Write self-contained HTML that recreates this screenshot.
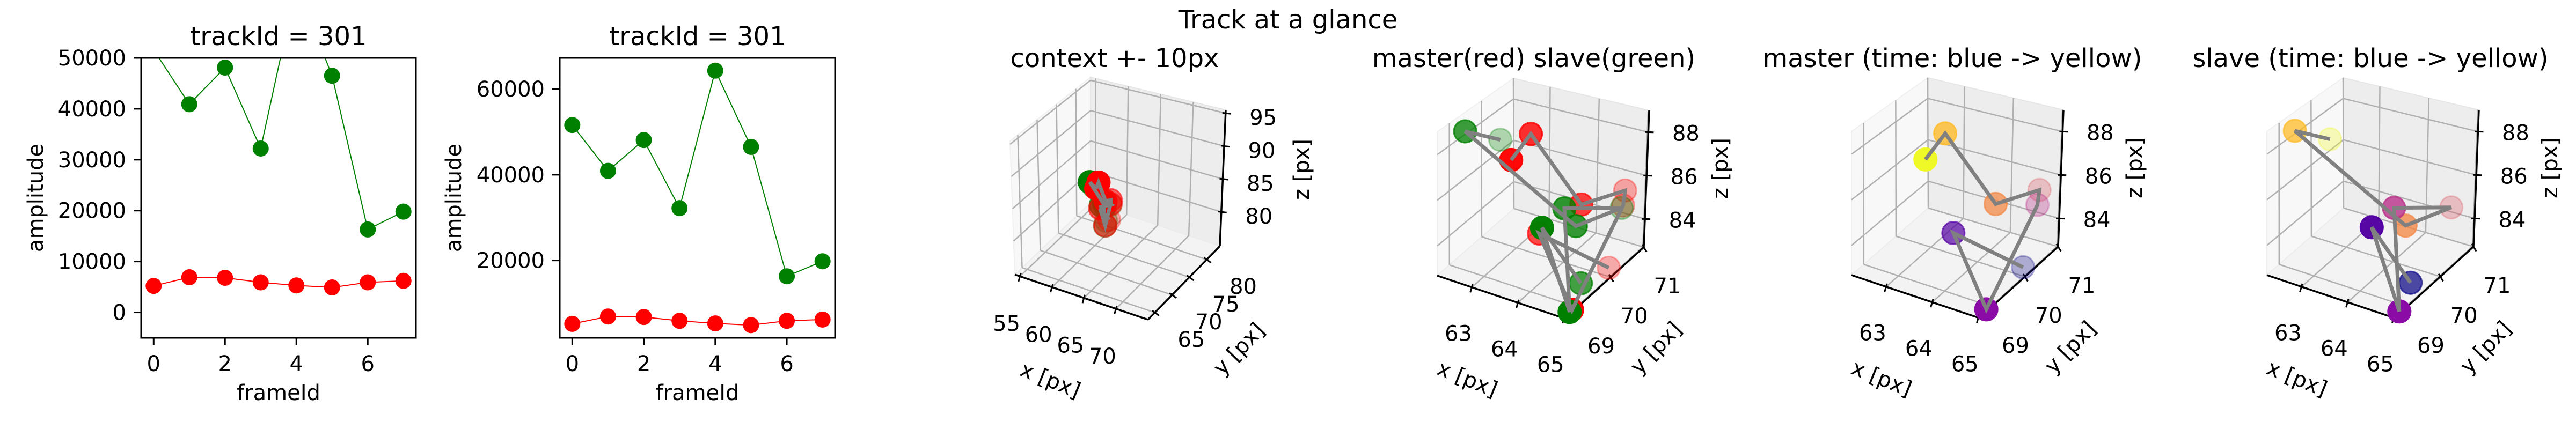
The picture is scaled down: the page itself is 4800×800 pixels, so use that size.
<!DOCTYPE html>
<html><head><meta charset="utf-8"><style>
html,body{margin:0;padding:0;background:#fff;}
svg{display:block;font-family:"DejaVu Sans","Liberation Sans",sans-serif;}
</style></head><body>
<svg id="fig" width="4800" height="800" viewBox="0 0 4800 800" xmlns="http://www.w3.org/2000/svg">
<rect width="4800" height="800" fill="#fff"/>
<text x="2400" y="53" font-size="48" text-anchor="middle">Track at a glance</text>
</svg>
<script>
// ---- 2D amplitude data ----
const frameIds=[0,1,2,3,4,5,6,7];
const slaveAmp=[51600,40900,48100,32200,64300,46500,16300,19800];
const masterAmp=[5200,6900,6800,5900,5300,4900,5900,6200];
const frameTicks=[0,2,4,6];
const ampTicksA=[0,10000,20000,30000,40000,50000];
const ampTicksB=[20000,40000,60000];
// ---- 3D track data ----
const masterX=[64.94,63.94,65.0,64.88,64.83,64.49,63.41,63.33];
const masterY=[70.05,69.33,68.86,70.52,70.64,69.81,69.81,69.33];
const masterZ=[83.0,84.8,82.75,85.16,85.66,85.85,88.37,87.68];
const slaveX=[64.85,64.16,65.0,64.3,64.85,64.55,62.36,62.61];
const slaveY=[69.33,69.10,68.79,69.57,70.52,69.57,69.33,70.05];
const slaveZ=[83.2,85.47,82.75,85.85,85.03,85.22,88.37,87.36];
const ctxXTicks=[55,60,65,70];
const ctxYTicks=[65,70,75,80];
const ctxZTicks=[80,85,90,95];
const zoomXTicks=[63,64,65];
const zoomYTicks=[69,70,71];
const zoomZTicks=[84,86,88];

const NS="http://www.w3.org/2000/svg";
const svg=document.getElementById('fig');
function mk(tag,parent,attrs){const e=document.createElementNS(NS,tag);for(const k in attrs)e.setAttribute(k,attrs[k]);(parent||svg).appendChild(e);return e;}
function fmt(v){return String(v);}

// ---------- 2D panels ----------
function panel2d(id,L,R,T,B,yMin,yMax,yTicks,titleX,ylabX){
  const g=mk('g',svg,{});
  
  
  const xMin=-0.35,xMax=7.35;
  const sx=v=>L+(v-xMin)/(xMax-xMin)*(R-L);
  const sy=v=>B-(v-yMin)/(yMax-yMin)*(B-T);
  const cp=mk('clipPath',g,{id:'clip'+id});
  mk('rect',cp,{x:L,y:T,width:R-L,height:B-T});
  const plot=mk('g',g,{'clip-path':'url(#clip'+id+')'});
  const series=[[slaveAmp,'#008000','slave'],[masterAmp,'#ff0000','master']];
  series.forEach(([vals,col,nm])=>{
    const pts=frameIds.map((f,i)=>sx(f)+','+sy(vals[i])).join(' ');
    const pl=mk('polyline',plot,{points:pts,fill:'none',stroke:col,'stroke-width':2});
    
    
    frameIds.forEach((f,i)=>{
      const c=mk('circle',plot,{cx:sx(f),cy:sy(vals[i]),r:15,fill:col});
      
      
    });
  });
  const fr=mk('rect',g,{x:L,y:T,width:R-L,height:B-T,fill:'none',stroke:'#000','stroke-width':3});
  
  
  frameTicks.forEach(t=>{
    mk('line',g,{x1:sx(t),x2:sx(t),y1:B,y2:B+14,stroke:'#000','stroke-width':3});
    const tx=mk('text',g,{x:sx(t),y:692,'font-size':40,'text-anchor':'middle'});
    tx.textContent=fmt(t);
    
    
  });
  yTicks.forEach(t=>{
    mk('line',g,{x1:L-14,x2:L,y1:sy(t),y2:sy(t),stroke:'#000','stroke-width':3});
    const tx=mk('text',g,{x:L-28,y:sy(t)+14,'font-size':40,'text-anchor':'end'});
    tx.textContent=fmt(t);
    
    
  });
  const ti=mk('text',g,{x:titleX,y:84,'font-size':48,'text-anchor':'middle'});
  ti.textContent='trackId = 301';
  
  
  const xl=mk('text',g,{x:(L+R)/2,y:746,'font-size':40,'text-anchor':'middle'});
  xl.textContent='frameId';
  
  
  const yl=mk('text',g,{x:0,y:0,'font-size':40,'text-anchor':'middle',transform:'translate('+ylabX+','+((T+B)/2)+') rotate(-90)'});
  yl.textContent='amplitude';
  
  
}
panel2d('a',263,775,108,630,-5000,50000,ampTicksA,519,80);
(function(){
  const all=slaveAmp.concat(masterAmp);
  const lo=Math.min(...all),hi=Math.max(...all),m=(hi-lo)*0.05;
  panel2d('b',1043,1556,108,630,lo-m,hi+m,ampTicksB,1300,859);
})();

// ---------- 3D panels ----------
const plasma=['#0d0887','#41049d','#6a00a8','#8f0da4','#b12a90','#cc4778','#e16462','#f2844b','#fca636','#fcce25','#f0f921'];
function hex2rgb(h){return [1,3,5].map(i=>parseInt(h.substr(i,2),16));}
function plasmaAt(t){
  const p=t*(plasma.length-1),i=Math.min(Math.floor(p),plasma.length-2),f=p-i;
  const a=hex2rgb(plasma[i]),b=hex2rgb(plasma[i+1]);
  return 'rgb('+a.map((v,k)=>Math.round(v+(b[k]-v)*f)).join(',')+')';
}
const ctxCorners={c000:[-248,-84],c100:[0,0],c110:[134,-137],c010:[-107,-218],c001:[-257,-333],c101:[11,-262],c111:[145,-391],c011:[-107,-452]};
const zoomCorners={c000:[-238,-80],c100:[0,0],c110:[147,-133],c010:[-95,-205],c001:[-238,-348],c101:[5,-275],c111:[157,-388],c011:[-96,-448]};

function panel3d(cfg){
  const g=mk('g',svg,{});
  
  
  const [X0,X1]=cfg.xr,[Y0,Y1]=cfg.yr,[Z0,Z1]=cfg.zr;
  const V=cfg.V0,C=cfg.corners;
  function Puvw(u,v,w){
    let x=0,y=0;
    for(const i of [0,1])for(const j of [0,1])for(const k of [0,1]){
      const wt=(i?u:1-u)*(j?v:1-v)*(k?w:1-w);const c=C['c'+i+j+k];
      x+=wt*c[0];y+=wt*c[1];
    }
    return [V[0]+x,V[1]+y];
  }
  const nx=x=>(x-X0)/(X1-X0),ny=y=>(y-Y0)/(Y1-Y0),nz=z=>(z-Z0)/(Z1-Z0);
  const P=(x,y,z)=>Puvw(nx(x),ny(y),nz(z));
  const poly=(pts,attrs,nm)=>{const e=mk('polygon',g,Object.assign({points:pts.map(p=>p.join(',')).join(' ')},attrs));return e;};
  poly([Puvw(0,0,0),Puvw(0,1,0),Puvw(0,1,1),Puvw(0,0,1)],{fill:'#f8f8f8',stroke:'#f0f0f0','stroke-width':2},'x-pane');
  poly([Puvw(0,1,0),Puvw(1,1,0),Puvw(1,1,1),Puvw(0,1,1)],{fill:'#ededed',stroke:'#e6e6e6','stroke-width':2},'y-pane');
  poly([Puvw(0,0,0),Puvw(1,0,0),Puvw(1,1,0),Puvw(0,1,0)],{fill:'#f3f3f3',stroke:'#ececec','stroke-width':2},'z-pane');
  const gl=(a,b)=>{const e=mk('line',g,{x1:a[0],y1:a[1],x2:b[0],y2:b[1],stroke:'#b0b0b0','stroke-width':2.5});};
  cfg.xt.forEach(t=>{const u=nx(t);gl(Puvw(u,0,0),Puvw(u,1,0));gl(Puvw(u,1,0),Puvw(u,1,1));});
  cfg.yt.forEach(t=>{const v=ny(t);gl(Puvw(0,v,0),Puvw(1,v,0));gl(Puvw(0,v,0),Puvw(0,v,1));});
  cfg.zt.forEach(t=>{const w=nz(t);gl(Puvw(0,0,w),Puvw(0,1,w));gl(Puvw(0,1,w),Puvw(1,1,w));});
  const ax=(a,b,nm)=>{const e=mk('line',g,{x1:a[0],y1:a[1],x2:b[0],y2:b[1],stroke:'#000','stroke-width':3.5});};
  ax(Puvw(0,0,0),Puvw(1,0,0),'x-axis-line');ax(Puvw(1,0,0),Puvw(1,1,0),'y-axis-line');ax(Puvw(1,1,0),Puvw(1,1,1),'z-axis-line');
  function ticks(list,pos,off,nm){
    const len=Math.hypot(off[0],off[1]),dx=off[0]/len,dy=off[1]/len;
    list.forEach(t=>{
      const p=pos(t);
      mk('line',g,{x1:p[0]-dx*6,y1:p[1]-dy*6,x2:p[0]+dx*10,y2:p[1]+dy*10,stroke:'#000','stroke-width':3});
      const tx=mk('text',g,{x:p[0]+off[0],y:p[1]+off[1]+14,'font-size':40,'text-anchor':'middle'});
      tx.textContent=fmt(t);
      
      
    });
  }
  ticks(cfg.xt,t=>Puvw(nx(t),0,0),cfg.xoff,'x-tick-label');
  ticks(cfg.yt,t=>Puvw(1,ny(t),0),cfg.yoff,'y-tick-label');
  ticks(cfg.zt,t=>Puvw(1,1,nz(t)),cfg.zoff,'z-tick-label');
  cfg.series.forEach(s=>{
    const n=s.x.length;
    const close=s.x.map((x,i)=>0.43*nx(x)-0.75*ny(s.y[i])+0.5*nz(s.z[i]));
    const cmin=Math.min(...close),cmax=Math.max(...close);
    const order=[...Array(n).keys()].sort((a,b)=>close[a]-close[b]);
    order.forEach(i=>{
      const p=P(s.x[i],s.y[i],s.z[i]);
      const alpha=1-0.7*(cmax-close[i])/((cmax-cmin)||1);
      const col=s.color?s.color:plasmaAt(i/(n-1));
      const c=mk('circle',g,{cx:p[0],cy:p[1],r:21,fill:col,stroke:col,'stroke-width':3,'fill-opacity':alpha.toFixed(2),'stroke-opacity':alpha.toFixed(2)});
      
      
    });
  });
  cfg.series.forEach(s=>{
    const pts=s.x.map((x,i)=>P(x,s.y[i],s.z[i]).join(',')).join(' ');
    const pl=mk('polyline',g,{points:pts,fill:'none',stroke:'#808080','stroke-width':7,'stroke-linejoin':'miter'});
    
    
  });
  const ti=mk('text',g,{x:cfg.titleX,y:125,'font-size':48,'text-anchor':'middle'});
  ti.textContent=cfg.title;
  
  
  const lab=(txt,rel,rot,nm)=>{const e=mk('text',g,{x:0,y:0,'font-size':40,'text-anchor':'middle','dominant-baseline':'central',transform:'translate('+(V[0]+rel[0])+','+(V[1]+rel[1])+') rotate('+rot+')'});e.textContent=txt;};
  lab('x [px]',[-182,113],22,'x-axis-title');
  lab('y [px]',[170,55],-46,'y-axis-title');
  lab('z [px]',[cfg.zlabRel,-280],-90,'z-axis-title');
}
const masterS={name:'master',x:masterX,y:masterY,z:masterZ};
const slaveS={name:'slave',x:slaveX,y:slaveY,z:slaveZ};
panel3d({name:'context-panel',V0:[2139,596],corners:ctxCorners,xr:[54.2,75],yr:[63,83.8],zr:[74.8,95.5],xt:ctxXTicks,yt:ctxYTicks,zt:ctxZTicks,xoff:[-25,88],yoff:[68,50],zoff:[70,8],zlabRel:287,title:'context +- 10px',titleX:2077,
  series:[Object.assign({color:'#008000'},slaveS),Object.assign({color:'#ff0000'},masterS)]});
const zr={corners:zoomCorners,xr:[62.25,65.02],yr:[68.62,71.0],zr:[82.7,89.0],xt:zoomXTicks,yt:zoomYTicks,zt:zoomZTicks,xoff:[-25,86],yoff:[44,72],zoff:[70,2],zlabRel:290};
panel3d(Object.assign({name:'master-slave-panel',V0:[2916,594],title:'master(red) slave(green)',titleX:2858,
  series:[Object.assign({color:'#ff0000'},masterS),Object.assign({color:'#008000'},slaveS)]},zr));
panel3d(Object.assign({name:'master-time-panel',V0:[3688,593],title:'master (time: blue -> yellow)',titleX:3638,series:[masterS]},zr));
panel3d(Object.assign({name:'slave-time-panel',V0:[4462,593],title:'slave (time: blue -> yellow)',titleX:4417,series:[slaveS]},zr));
</script>
</body></html>
